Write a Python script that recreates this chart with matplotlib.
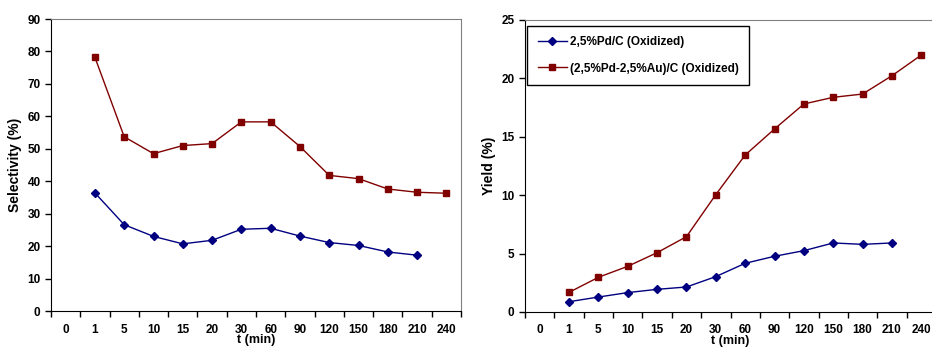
import numpy as np
import matplotlib
matplotlib.use("Agg")
import matplotlib.pyplot as plt

plt.rcParams['font.family'] = ['Liberation Sans', 'DejaVu Sans']
plt.rcParams['font.weight'] = 'bold'

# time categories (min)
t_labels = ["0", "1", "5", "10", "15", "20", "30", "60", "90", "120", "150", "180", "210", "240"]

# selectivity (%)
sel_pd = [36.4, 26.6, 23.0, 20.7, 21.8, 25.2, 25.5, 23.1, 21.1, 20.2, 18.2, 17.2]
sel_pdau = [78.2, 53.7, 48.5, 51.0, 51.6, 58.3, 58.3, 50.7, 41.8, 40.8, 37.6, 36.6, 36.3]

# yield (%)
yld_pd = [0.88, 1.28, 1.66, 1.94, 2.14, 3.03, 4.17, 4.77, 5.25, 5.91, 5.79, 5.91]
yld_pdau = [1.68, 2.97, 3.91, 5.08, 6.45, 10.05, 13.44, 15.67, 17.81, 18.38, 18.66, 20.23, 22.0]

names = ["2,5%Pd/C (Oxidized)", "(2,5%Pd-2,5%Au)/C (Oxidized)"]
blue = "#000080"
red = "#800000"

fig = plt.figure(figsize=(9.32, 3.47), dpi=100)
ax1 = fig.add_axes([0.0547, 0.1037, 0.440, 0.8415])
ax2 = fig.add_axes([0.5633, 0.1009, 0.441, 0.8415])


def style_axis(ax, ymax, ystep, ylabel):
    n = len(t_labels)
    ax.set_xlim(0, n)
    ax.set_xticks(np.arange(n + 1))
    ax.set_xticklabels([])
    ax.set_xticks(np.arange(n) + 0.5, minor=True)
    ax.set_xticklabels(t_labels, minor=True, fontsize=8.5, fontweight='bold')
    ax.tick_params(axis='x', which='major', direction='out', length=4, width=1)
    ax.tick_params(axis='x', which='minor', length=0, pad=9)
    ax.set_ylim(0, ymax)
    ax.set_yticks(np.arange(0, ymax + 1, ystep))
    ax.tick_params(axis='y', direction='out', length=4, width=1, labelsize=8.5)
    for lab in ax.get_yticklabels():
        lab.set_fontweight('bold')
    ax.set_xlabel("t (min)", fontsize=9, fontweight='bold', labelpad=-1)
    ax.set_ylabel(ylabel, fontsize=10, fontweight='bold', labelpad=4)
    ax.spines['left'].set_color('black')
    ax.spines['bottom'].set_color('black')
    ax.spines['top'].set_color('#808080')
    ax.spines['right'].set_color('#808080')


x_pd = np.arange(1, len(sel_pd) + 1) + 0.5
x_pdau = np.arange(1, len(sel_pdau) + 1) + 0.5

ax1.plot(x_pd, sel_pd, color=blue, lw=1, marker='D', ms=4.5, label=names[0])
ax1.plot(x_pdau, sel_pdau, color=red, lw=1, marker='s', ms=5, label=names[1])
style_axis(ax1, 90, 10, "Selectivity (%)")

ax2.plot(x_pd, yld_pd, color=blue, lw=1, marker='D', ms=4.5, label=names[0])
ax2.plot(x_pdau, yld_pdau, color=red, lw=1, marker='s', ms=5, label=names[1])
style_axis(ax2, 25, 5, "Yield (%)")

leg = ax2.legend(loc='upper left', bbox_to_anchor=(0.005, 0.98),
                 prop={'weight': 'bold', 'size': 8.5}, fancybox=False, framealpha=1,
                 edgecolor='black', handlelength=2.5, labelspacing=1.2,
                 borderpad=0.9, handletextpad=0.2, borderaxespad=0)
leg.get_frame().set_linewidth(1)

fig.savefig("out.png", dpi=100)
